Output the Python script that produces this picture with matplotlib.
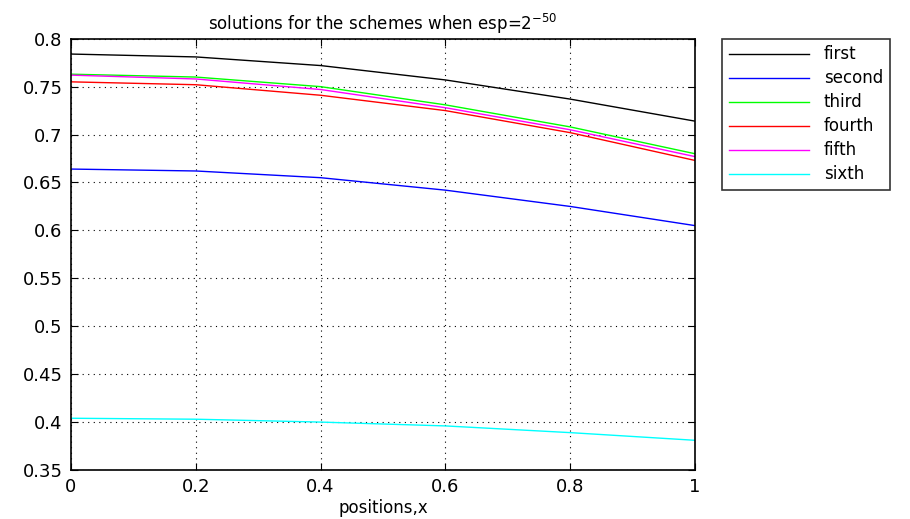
import matplotlib
matplotlib.use("Agg")
import matplotlib.pyplot as plt

x = [0.0, 0.2, 0.4, 0.6, 0.8, 1.0]
first = [0.784, 0.781, 0.772, 0.757, 0.737, 0.714]
second = [0.664, 0.662, 0.655, 0.642, 0.625, 0.605]
third = [0.763, 0.760, 0.750, 0.731, 0.708, 0.680]
fourth = [0.755, 0.752, 0.741, 0.725, 0.702, 0.673]
fifth = [0.762, 0.758, 0.747, 0.728, 0.705, 0.677]
sixth = [0.404, 0.403, 0.400, 0.396, 0.389, 0.381]

series = [
    ("first", first, "black"),
    ("second", second, "blue"),
    ("third", third, "#00ff00"),
    ("fourth", fourth, "red"),
    ("fifth", fifth, "magenta"),
    ("sixth", sixth, "cyan"),
]

plt.rcParams["font.family"] = ["DejaVu Sans"]

fig = plt.figure(figsize=(9.1, 5.19), dpi=100)
ax = fig.add_axes([0.078, 0.0944, 0.6857, 0.831])

for name, ys, col in series:
    ax.plot(x, ys, color=col, lw=1, label=name)

ax.set_xlim(0, 1)
ax.set_ylim(0.35, 0.8)
ax.set_xticks([0, 0.2, 0.4, 0.6, 0.8, 1])
ax.set_xticklabels(["0", "0.2", "0.4", "0.6", "0.8", "1"])
ax.set_yticks([0.35, 0.4, 0.45, 0.5, 0.55, 0.6, 0.65, 0.7, 0.75, 0.8])
ax.set_yticklabels(["0.35", "0.4", "0.45", "0.5", "0.55", "0.6", "0.65", "0.7", "0.75", "0.8"])
ax.tick_params(direction="in", top=True, right=True, labelsize=13, length=5, pad=6)
ax.grid(True, color="black", linestyle=(0, (1, 4)), lw=0.8)
for s in ax.spines.values():
    s.set_linewidth(1.2)

ax.set_xlabel("positions,x", fontsize=12, labelpad=2)
ax.set_title("solutions for the schemes when esp=2$^{-50}$", fontsize=12, pad=6)

leg = fig.legend(loc="upper left", bbox_to_anchor=(0.7934, 0.9254), fontsize=12,
                 frameon=True, fancybox=False, edgecolor="black",
                 handlelength=4.8, handletextpad=0.9, labelspacing=0.36,
                 borderpad=0.4, borderaxespad=0)
leg.get_frame().set_linewidth(1.2)

fig.savefig("out.png", dpi=100)
